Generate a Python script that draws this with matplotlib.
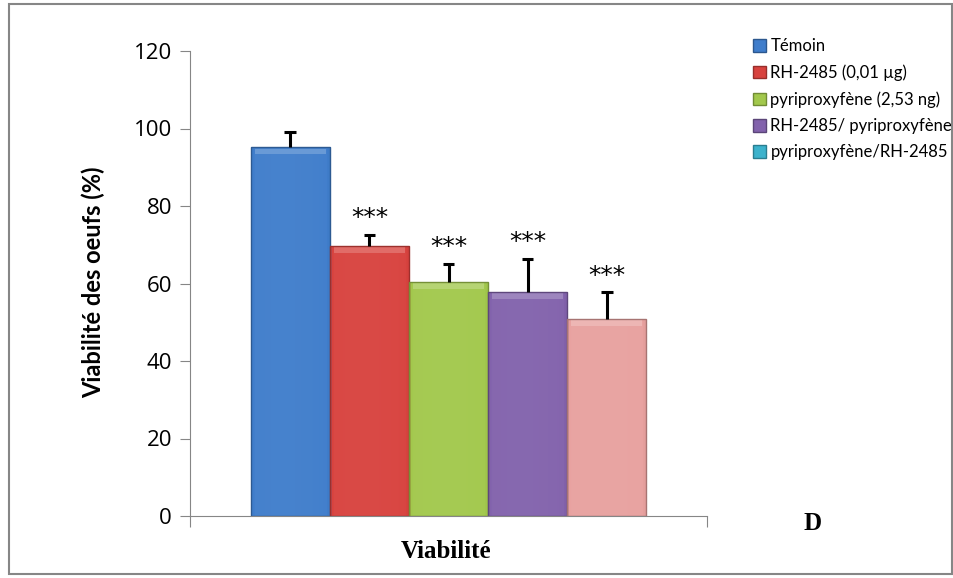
"""Viabilité des oeufs - bar chart with error bars"""

import matplotlib.pyplot as plt
import numpy as np
from matplotlib.patches import Patch, Rectangle
from matplotlib.colors import to_rgb

labels = ["Témoin", "RH-2485 (0,01 µg)", "pyriproxyfène (2,53 ng)",
          "RH-2485/ pyriproxyfène", "pyriproxyfène/RH-2485"]
values = [95.1, 69.7, 60.4, 57.8, 50.8]
errors = [4.1, 2.8, 4.6, 8.6, 6.9]
stars = ["", "***", "***", "***", "***"]

bar_colors = ["#3F7DCB", "#D8423E", "#A2C84C", "#8262AC", "#E8A19F"]
legend_colors = ["#3F7DCB", "#D8423E", "#A2C84C", "#8262AC", "#3CB2CC"]

plt.rcParams['font.family'] = ['Lato', 'DejaVu Sans']

fig = plt.figure(figsize=(9.54, 5.78), dpi=100)
ax = fig.add_axes([190 / 954, 1 - 516 / 578, 517 / 954, 465 / 578])

x = np.arange(len(values))
grey = "#868686"


def shade(c, f):
    r = np.array(to_rgb(c))
    if f < 1:
        return tuple(r * f)
    return tuple(r + (1 - r) * (f - 1))


bars = ax.bar(x, values, width=1.0, color=bar_colors, linewidth=0, zorder=2)
for b, c in zip(bars, bar_colors):
    # horizontal gradient to mimic the bevelled Excel look
    g = np.linspace(0, 1, 64)
    prof = 1 - 0.3 * (g - 0.4) ** 2
    prof[:3] -= 0.12
    prof[-3:] -= 0.15
    col = np.array([shade(c, 0.82 + 0.22 * p) for p in prof])
    img = col[np.newaxis, :, :]
    x0, y0 = b.get_x(), b.get_y()
    im = ax.imshow(img, extent=[x0, x0 + b.get_width(), y0, y0 + b.get_height()],
                   aspect='auto', zorder=2.1, interpolation='bilinear')
    im.set_clip_path(b)
    # top bevel
    ax.add_patch(Rectangle((x0 + 0.05, b.get_height() - 1.8), b.get_width() - 0.1, 1.5,
                           color=shade(c, 1.22), lw=0, zorder=2.2))
    ax.add_patch(Rectangle((x0, 0), b.get_width(), b.get_height(), fill=False,
                           edgecolor=shade(c, 0.72), lw=1.0, zorder=2.3))

# upper error bars only
tops = np.array(values) + np.array(errors)
ax.vlines(x, values, tops, color='black', lw=2.2, zorder=3)
ax.hlines(tops, x - 0.075, x + 0.075, color='black', lw=2.2, zorder=3)

for xi, t, s in zip(x, tops, stars):
    if s:
        ax.text(xi, t + 1.2, s, ha='center', va='bottom', fontsize=18,
                family='DejaVu Sans', zorder=4)

ax.set_ylim(0, 120)
ax.set_xlim(-1.27, 5.27)
ax.set_yticks(np.arange(0, 121, 20))
ax.set_xticks([-1.27, 5.27])
ax.set_xticklabels([])
ax.tick_params(axis='y', direction='out', length=7, color=grey, labelsize=16, pad=6)
for t in ax.get_yticklabels():
    t.set_family('Open Sans')
ax.tick_params(axis='x', direction='out', length=8, color=grey)
for s in ['top', 'right']:
    ax.spines[s].set_visible(False)
for s in ['left', 'bottom']:
    ax.spines[s].set_color(grey)

fig.text(93 / 954, 1 - 282 / 578, "Viabilité des oeufs (%)", fontsize=17,
         fontweight='bold', rotation=90, ha='center', va='center')
fig.text(446 / 954, 1 - 551 / 578, "Viabilité", fontsize=18, fontweight='bold',
         family='Liberation Serif', ha='center', va='center')

handles = [Patch(facecolor=c, edgecolor=shade(c, 0.7)) for c in legend_colors]
fig.legend(handles, labels, loc='upper left', bbox_to_anchor=(753 / 954, 1 - 38 / 578),
           frameon=False, fontsize=12, handlelength=0.8, handleheight=0.8,
           handletextpad=0.25, labelspacing=0.62, borderaxespad=0, borderpad=0)

fig.text(813 / 954, 1 - 524 / 578, "D", fontsize=18, fontweight='bold',
         family='Liberation Serif', ha='center', va='center')

fig.patches.append(Rectangle((9 / 954, 4 / 578), 943 / 954, 570 / 578,
                             transform=fig.transFigure, fill=False,
                             edgecolor=grey, lw=1.5))

fig.savefig("out.png", dpi=100)
